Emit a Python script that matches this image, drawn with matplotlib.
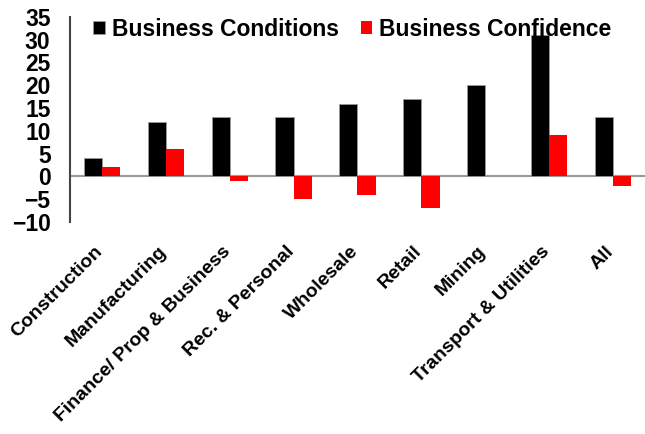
import matplotlib
matplotlib.use("Agg")
import matplotlib.pyplot as plt
from matplotlib.transforms import ScaledTranslation
import numpy as np

plt.rcParams['font.family'] = ['Liberation Sans', 'DejaVu Sans']
plt.rcParams['font.weight'] = 'bold'

sectors = ['Construction', 'Manufacturing', 'Finance/ Prop & Business',
           'Rec. & Personal', 'Wholesale', 'Retail', 'Mining',
           'Transport & Utilities', 'All']
conditions = [4, 12, 13, 13, 16, 17, 20, 31, 13]
confidence = [2, 6, -1, -5, -4, -7, 0, 9, -2]

fig = plt.figure(figsize=(6.45, 4.34), dpi=100)
ax = fig.add_axes([0.1085, 0.4885, 0.8915, 0.4725])

x = np.arange(len(sectors))
w = 0.285
ax.bar(x - w / 2, conditions, w, color='black', edgecolor='#999999',
       linewidth=0.6, label='Business Conditions')
ax.bar(x + w / 2, confidence, w, color='#ff0000', edgecolor='none',
       label='Business Confidence')

ax.set_xlim(-0.5, len(sectors) - 0.5)
ax.set_ylim(-10, 35)
ax.set_yticks(range(-10, 36, 5))
ax.axhline(0, color='#999999', linewidth=1.5, zorder=0)

for s in ['top', 'right', 'bottom']:
    ax.spines[s].set_visible(False)
ax.spines['left'].set_color('#444444')
ax.spines['left'].set_linewidth(1.5)

ax.tick_params(axis='y', length=0, labelsize=16.5, pad=14)
ax.tick_params(axis='x', length=0, pad=15)
ax.set_xticks(x)
ax.set_xticklabels(sectors, rotation=45, ha='right', va='top',
                   rotation_mode='anchor', fontsize=14)
# nudge category labels a little left of their ticks
shift = ScaledTranslation(-8 / 100, 0, fig.dpi_scale_trans)
for lbl in ax.get_xticklabels():
    lbl.set_transform(lbl.get_transform() + shift)

ax.legend(loc='center left', bbox_to_anchor=(93 / 645, 1 - 29 / 434),
          bbox_transform=fig.transFigure, ncol=2, frameon=False,
          fontsize=16.5, handlelength=0.52, handleheight=0.52, handletextpad=0.3,
          columnspacing=0.95, borderpad=0, borderaxespad=0)

fig.savefig('out.png', dpi=100)
